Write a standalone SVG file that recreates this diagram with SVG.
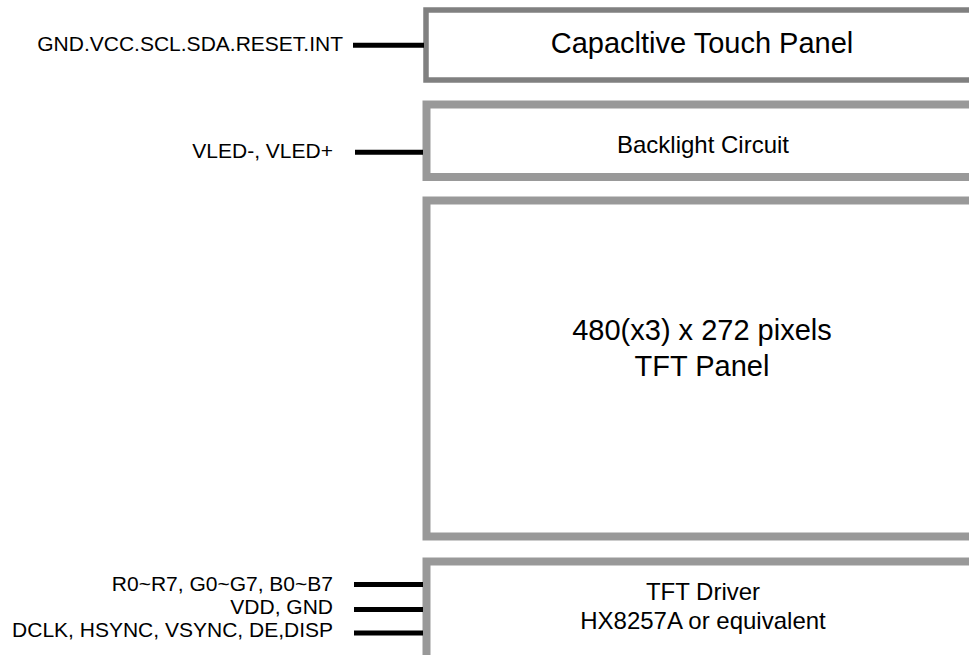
<svg xmlns="http://www.w3.org/2000/svg" width="969" height="655" viewBox="0 0 969 655">
<style>
  .box { fill: #ffffff; }
  .b1 { stroke: #808080; stroke-width: 5.5; }
  .b2 { stroke: #999999; stroke-width: 8; }
  .lbl { font-family: "Liberation Sans", Arial, sans-serif; fill: #000; }
  .side { font-size: 21px; text-anchor: end; }
  .mid { text-anchor: middle; }
  .wire { stroke: #000; stroke-width: 5; fill: none; }
</style>
<rect width="969" height="655" fill="#ffffff"/>
<g id="touch-panel">
  <rect class="box b1" x="426" y="10" width="600" height="70"/>
  <text class="lbl mid" x="702" y="53" font-size="29">Capacltive Touch Panel</text>
</g>
<g id="backlight">
  <rect class="box b2" x="426.5" y="104.5" width="600" height="72.5"/>
  <text class="lbl mid" x="703" y="153" font-size="24">Backlight Circuit</text>
</g>
<g id="tft-panel">
  <rect class="box b2" x="426.5" y="200.5" width="600" height="336"/>
  <text class="lbl mid" x="702" y="340" font-size="29">480(x3) x 272 pixels</text>
  <text class="lbl mid" x="702" y="376" font-size="29">TFT Panel</text>
</g>
<g id="tft-driver">
  <rect class="box b2" x="426.5" y="561.5" width="600" height="100"/>
  <text class="lbl mid" x="703" y="600" font-size="24">TFT Driver</text>
  <text class="lbl mid" x="703" y="629" font-size="24">HX8257A or equivalent</text>
</g>
<g id="labels">
  <text class="lbl side" x="343" y="51">GND.VCC.SCL.SDA.RESET.INT</text>
  <text class="lbl side" x="333" y="158">VLED-, VLED+</text>
  <text class="lbl side" x="333" y="591">R0~R7, G0~G7, B0~B7</text>
  <text class="lbl side" x="333" y="614">VDD, GND</text>
  <text class="lbl side" x="333" y="637">DCLK, HSYNC, VSYNC, DE,DISP</text>
</g>
<g id="connectors">
  <line class="wire" x1="353" y1="45.3" x2="424" y2="45.3"/>
  <line class="wire" x1="355" y1="152.3" x2="423" y2="152.3"/>
  <line class="wire" x1="354" y1="584.5" x2="423" y2="584.5"/>
  <line class="wire" x1="354" y1="609.5" x2="423" y2="609.5"/>
  <line class="wire" x1="354" y1="633" x2="423" y2="633"/>
</g>
</svg>
